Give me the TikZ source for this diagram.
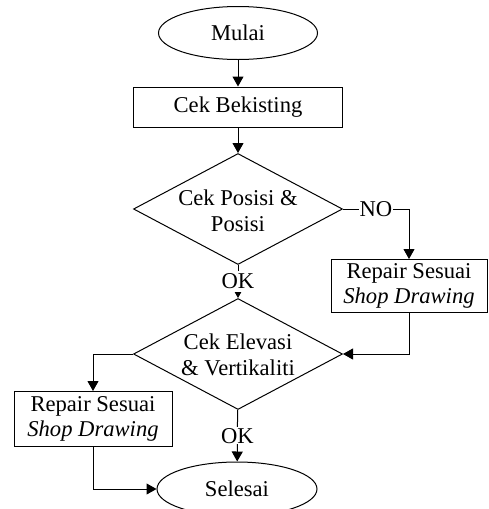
\documentclass[tikz,border=0pt]{standalone}
\usepackage{fontspec}
\setmainfont{Liberation Serif}
\usetikzlibrary{shapes.geometric,arrows.meta}
\begin{document}
\begin{tikzpicture}[x=1pt,y=-1pt,line width=1pt,
  every node/.style={font=\fontsize{22.6}{25.5}\selectfont},
  term/.style={ellipse,draw,minimum width=159pt,minimum height=53pt,inner sep=0pt},
  proc/.style={rectangle,draw,align=center,inner sep=0pt},
  dec/.style={diamond,draw,minimum width=209pt,minimum height=111pt,inner sep=0pt},
  txt/.style={align=center,inner sep=0pt},
  arr/.style={-{Triangle[length=10pt,width=11pt]}},
  lbl/.style={fill=white,inner sep=1pt}]
\useasboundingbox (0,0) rectangle (488,509);
\node[term] (start) at (238,33) {Mulai};
\node[proc,minimum width=209pt,minimum height=40pt] (cek) at (238,107) {Cek Bekisting};
\node[dec] (d1) at (238,209) {};
\node[txt] (d1t) at (238,211) {Cek Posisi \&\\Posisi};
\node[proc,minimum width=156pt,minimum height=53pt] (r1) at (409,286) {Repair Sesuai\\\textit{Shop Drawing}};
\node[dec] (d2) at (238,354) {};
\node[txt] (d2t) at (238,355) {Cek Elevasi\\\& Vertikaliti};
\node[proc,minimum width=158pt,minimum height=55pt] (r2) at (93,419) {Repair Sesuai\\\textit{Shop Drawing}};
\node[term,minimum width=160pt,minimum height=54pt] (end) at (237,489) {Selesai};
\draw[arr] (start) -- (cek);
\draw[arr] (cek) -- (d1);
\draw[arr] (d1.east) -- node[lbl]{NO} (r1.north |- d1.east) -- (r1.north);
\draw[arr] (d1) -- node[lbl,inner sep=3pt]{OK} (d2);
\draw[arr] (r1.south) |- (d2.east);
\draw[arr] (d2.west) -| (r2.north);
\draw[arr] (r2.south) |- (end.west);
\draw[arr] (d2) -- node[lbl]{OK} (end);
\end{tikzpicture}
\end{document}
